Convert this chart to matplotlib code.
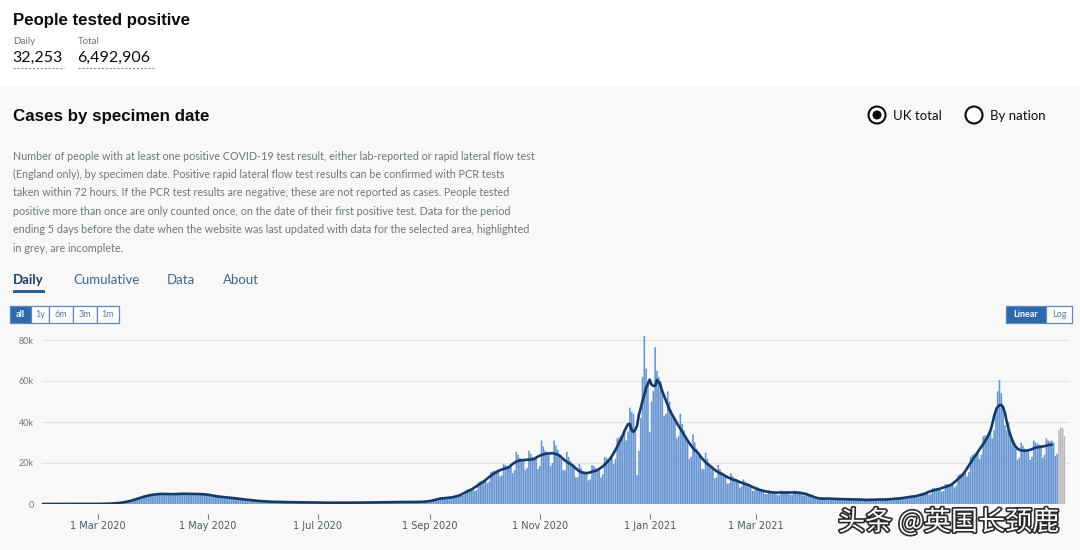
import numpy as np
import pandas as pd
import matplotlib
matplotlib.use("Agg")
import matplotlib.pyplot as plt
import matplotlib.dates as mdates
import matplotlib.patheffects as pe
from matplotlib.patches import Rectangle, Circle
from matplotlib.transforms import IdentityTransform

# daily people tested positive by specimen date (thousands), from 30 Jan 2020
jan_2020 = [0.002, 0.0]
feb_2020 = [0.0, 0.0, 0.0, 0.0, 0.0, 0.0, 0.001, 0.001, 0.0, 0.002,
            0.001, 0.0, 0.0, 0.0, 0.0, 0.0, 0.0, 0.0, 0.0, 0.002,
            0.003, 0.005, 0.004, 0.006, 0.008, 0.01, 0.012, 0.015, 0.02]
mar_2020 = [0.03, 0.05, 0.06, 0.08, 0.1, 0.12, 0.14, 0.16, 0.22, 0.28,
            0.35, 0.45, 0.55, 0.6, 0.65, 0.9, 1.1, 1.3, 1.5, 1.8,
            1.9, 2.0, 2.7, 3.0, 3.3, 3.6, 3.9, 3.8, 3.9, 4.4, 4.6]
apr_2020 = [4.8, 5.0, 4.9, 4.5, 4.4, 5.2, 5.3, 5.2, 5.0, 4.7,
            4.3, 4.2, 4.9, 5.3, 5.4, 5.2, 5.0, 4.6, 4.4, 5.1,
            5.3, 5.2, 5.1, 4.9, 4.5, 4.3, 5.0, 5.2, 5.1, 4.9]
may_2020 = [4.6, 4.0, 3.7, 4.3, 4.2, 3.9, 3.7, 3.4, 3.0, 2.9,
            3.6, 3.5, 3.3, 3.1, 2.9, 2.5, 2.3, 2.8, 2.7, 2.4,
            2.3, 2.1, 1.8, 1.6, 1.9, 2.0, 1.8, 1.6, 1.5, 1.2, 1.1]
jun_2020 = [1.4, 1.4, 1.3, 1.2, 1.1, 0.9, 0.8, 1.2, 1.2, 1.1,
            1.0, 1.0, 0.8, 0.7, 1.0, 1.0, 0.9, 0.9, 0.8, 0.7,
            0.6, 0.9, 0.9, 0.9, 0.8, 0.8, 0.6, 0.6, 0.8, 0.8]
jul_2020 = [0.8, 0.7, 0.7, 0.5, 0.5, 0.7, 0.7, 0.7, 0.7, 0.6,
            0.5, 0.5, 0.7, 0.7, 0.7, 0.6, 0.6, 0.5, 0.5, 0.7,
            0.7, 0.7, 0.7, 0.7, 0.6, 0.5, 0.8, 0.8, 0.8, 0.8, 0.7]
aug_2020 = [0.6, 0.6, 0.9, 0.9, 0.9, 0.9, 0.8, 0.7, 0.7, 1.0,
            1.0, 1.0, 1.0, 0.9, 0.8, 0.8, 1.1, 1.1, 1.0, 1.0,
            0.9, 0.8, 0.8, 1.1, 1.2, 1.1, 1.1, 1.0, 0.9, 0.9, 1.3]
sep_2020 = [1.6, 1.7, 1.8, 1.9, 1.9, 2.3, 3.2, 3.1, 3.0, 2.9,
            2.8, 2.5, 2.6, 3.9, 3.8, 3.9, 4.1, 4.3, 4.0, 4.4,
            6.5, 7.0, 7.2, 7.5, 7.6, 6.4, 6.7, 10.5, 11.0, 11.2]
oct_2020 = [11.5, 11.8, 10.2, 11.0, 15.5, 16.0, 16.2, 16.5, 16.8, 13.5,
            14.0, 19.5, 19.0, 18.5, 18.6, 18.8, 15.0, 16.5, 25.5, 24.0,
            22.5, 22.0, 21.5, 16.5, 17.5, 26.0, 24.5, 23.0, 22.5, 22.0, 17.0]
nov_2020 = [18.5, 31.0, 28.0, 26.0, 25.0, 24.0, 18.5, 20.0, 31.0, 28.5,
            26.5, 24.0, 22.0, 16.5, 16.5, 25.5, 23.0, 21.0, 19.5, 18.0,
            13.0, 13.0, 19.5, 17.5, 16.0, 15.0, 14.5, 11.5, 12.0, 19.0]
dec_2020 = [18.5, 17.5, 17.0, 16.5, 13.0, 14.5, 23.0, 22.5, 22.0, 22.5,
            23.0, 19.5, 22.0, 32.0, 32.5, 33.0, 34.0, 36.0, 31.0, 35.5,
            47.0, 45.0, 44.0, 35.0, 14.0, 26.0, 42.0, 62.0, 82.0, 66.0, 60.0]
jan_2021 = [35.0, 50.0, 55.0, 76.5, 65.0, 62.0, 60.0, 55.0, 43.0, 44.0,
            55.0, 50.0, 46.0, 43.0, 40.0, 32.0, 33.0, 44.0, 39.0, 36.0,
            33.0, 30.0, 22.0, 23.0, 34.0, 30.0, 27.0, 25.0, 23.0, 17.0, 17.0]
feb_2021 = [25.0, 22.0, 20.0, 18.5, 17.0, 12.5, 13.0, 19.0, 17.0, 15.5,
            14.5, 13.5, 10.0, 10.0, 15.0, 13.5, 12.5, 12.0, 11.0, 8.0,
            8.5, 12.0, 11.0, 10.0, 9.5, 9.0, 6.5, 6.5]
mar_2021 = [8.5, 8.0, 7.3, 6.8, 6.5, 4.8, 4.8, 6.8, 6.3, 6.0,
            5.8, 5.7, 4.3, 4.4, 6.6, 6.2, 6.0, 5.9, 5.8, 4.4,
            4.5, 6.6, 6.2, 6.0, 5.8, 5.6, 4.2, 4.1, 5.6, 5.0, 4.6]
apr_2021 = [4.2, 3.0, 2.6, 2.2, 2.3, 3.0, 3.0, 2.9, 2.8, 2.1,
            2.0, 3.0, 2.8, 2.6, 2.6, 2.5, 1.8, 1.8, 2.8, 2.6,
            2.5, 2.4, 2.3, 1.7, 1.7, 2.6, 2.4, 2.3, 2.3, 2.2]
may_2021 = [1.6, 1.6, 1.7, 2.5, 2.4, 2.3, 2.2, 1.7, 1.7, 2.5,
            2.4, 2.4, 2.4, 2.3, 1.8, 1.9, 3.0, 2.9, 2.9, 2.9,
            2.9, 2.3, 2.5, 3.8, 3.8, 3.8, 3.9, 4.0, 3.2, 3.4, 3.6]
jun_2021 = [5.5, 5.6, 5.7, 5.7, 4.6, 5.0, 7.8, 7.6, 7.5, 7.6,
            7.5, 6.0, 6.4, 9.8, 9.6, 9.5, 9.6, 9.7, 8.0, 9.0,
            14.0, 14.5, 14.8, 15.2, 15.5, 13.5, 15.5, 23.0, 24.0, 24.5]
jul_2021 = [25.0, 25.5, 22.0, 24.0, 33.0, 33.5, 33.0, 34.0, 35.5, 32.0,
            36.0, 47.0, 55.0, 60.5, 54.0, 47.0, 38.5, 36.0, 40.0, 35.0,
            31.0, 28.5, 27.0, 21.5, 22.5, 30.0, 28.5, 27.0, 26.5, 26.0, 21.5]
aug_2021 = [23.0, 31.0, 30.0, 29.5, 29.0, 28.5, 22.5, 24.0, 32.0, 31.0,
            30.5, 31.0, 30.0, 23.5, 24.5, 36.0, 37.5, 37.0, 33.0]
n_incomplete = 4  # last days shown in grey

y_ticks = [0, 20000, 40000, 60000, 80000]
y_labels = ["0", "20k", "40k", "60k", "80k"]
x_ticks = pd.date_range("2020-03-01", "2021-07-01", freq="2MS")
hidden_labels = ["1 May 2021", "1 Jul 2021"]  # covered by the watermark in the source

paragraph = [
    "Number of people with at least one positive COVID-19 test result, either lab-reported or rapid lateral flow test",
    "(England only), by specimen date. Positive rapid lateral flow test results can be confirmed with PCR tests",
    "taken within 72 hours. If the PCR test results are negative, these are not reported as cases. People tested",
    "positive more than once are only counted once, on the date of their first positive test. Data for the period",
    "ending 5 days before the date when the website was last updated with data for the selected area, highlighted",
    "in grey, are incomplete.",
]

months = [jan_2020, feb_2020, mar_2020, apr_2020, may_2020, jun_2020, jul_2020,
          aug_2020, sep_2020, oct_2020, nov_2020, dec_2020, jan_2021, feb_2021,
          mar_2021, apr_2021, may_2021, jun_2021, jul_2021, aug_2021]
daily = np.concatenate([np.array(m) for m in months]) * 1000
dates = pd.date_range("2020-01-30", periods=len(daily), freq="D")

W, H = 1080, 550
BLUE_BAR = "#6494d2"
NAVY = "#143a6c"
BODY = "Lato"


def fx(x):
    return x / W


def fy(y):
    return 1 - y / H


fig = plt.figure(figsize=(W / 100, H / 100), dpi=100, facecolor="#f8f8f8")

# white header strip
fig.patches.append(Rectangle((0, fy(86)), 1, 1 - fy(86), transform=fig.transFigure,
                             facecolor="white", edgecolor="none", zorder=0))

fig.text(fx(13), fy(21), "People tested positive", fontsize=12.1, weight="bold",
         family="Liberation Sans", color="#0b0c0c", va="center")
fig.text(fx(13), fy(42), "Daily", fontsize=7, family=BODY, color="#6f777b", va="center")
fig.text(fx(78), fy(42), "Total", fontsize=7, family=BODY, color="#6f777b", va="center")
fig.text(fx(12), fy(58), "32,253", fontsize=11.5, family=BODY, color="#0b0c0c", va="center")
fig.text(fx(77), fy(58), "6,492,906", fontsize=11.5, family=BODY, color="#0b0c0c", va="center")
for x0, x1 in [(13, 64), (78, 155)]:
    fig.add_artist(plt.Line2D([fx(x0), fx(x1)], [fy(68), fy(68)], transform=fig.transFigure,
                              color="#8a8f92", lw=0.8, ls=(0, (2, 1.5))))

fig.text(fx(13), fy(116), "Cases by specimen date", fontsize=12.2, weight="bold",
         family="Liberation Sans", color="#0b0c0c", va="center")

# radio buttons
for cx, label, selected in [(877, "UK total", True), (974, "By nation", False)]:
    fig.patches.append(Circle((cx, H - 115), 8.5, transform=IdentityTransform(),
                              facecolor="white", edgecolor="#0b0c0c", lw=1.5))
    if selected:
        fig.patches.append(Circle((cx, H - 115), 4.5, transform=IdentityTransform(),
                                  facecolor="#0b0c0c", edgecolor="none"))
    fig.text(fx(cx + 16), fy(116), label, fontsize=9.5, family=BODY, color="#0b0c0c", va="center")

for i, line in enumerate(paragraph):
    fig.text(fx(13), fy(156 + i * 18.4), line, fontsize=7.75, family=BODY,
             color="#6f777b", va="center")

# tabs
fig.text(fx(13), fy(280), "Daily", fontsize=9.5, weight="bold", family=BODY, color="#1f3f66", va="center")
fig.patches.append(Rectangle((fx(13), fy(293)), fx(45) - fx(13), 3 / H, transform=fig.transFigure,
                             facecolor="#2d5f96", edgecolor="none"))
for x, label in [(73, "Cumulative"), (167, "Data"), (223, "About")]:
    fig.text(fx(x), fy(280), label, fontsize=9.5, family=BODY, color="#40668f", va="center")


# range buttons and scale buttons
def button(x0, x1, label, active, bold=False):
    fig.patches.append(Rectangle((fx(x0), fy(323)), fx(x1) - fx(x0), 17 / H,
                                 transform=fig.transFigure, lw=0.9,
                                 facecolor="#2c69ad" if active else "white",
                                 edgecolor="#5c88bf"))
    fig.text(fx((x0 + x1) / 2), fy(314.5), label, fontsize=6.5, family=BODY,
             weight="bold" if bold else "normal",
             color="white" if active else "#5d7ea6", ha="center", va="center")


for x0, x1, lab, act in [(10, 31, "all", True), (31, 49, "1y", False), (49, 73, "6m", False),
                         (73, 97, "3m", False), (97, 119, "1m", False)]:
    button(x0, x1, lab, act, bold=act)
button(1006, 1046, "Linear", True, bold=True)
button(1046, 1072, "Log", False)

# chart
ax = fig.add_axes([fx(42), fy(504), fx(1070) - fx(42), (504 - 332) / H])
ax.set_facecolor("none")
complete = len(daily) - n_incomplete
ax.bar(dates[:complete], daily[:complete], width=0.88, color=BLUE_BAR, linewidth=0,
       snap=False, zorder=2)
ax.bar(dates[complete:], daily[complete:], width=0.88, color="#b9b9b9", linewidth=0,
       snap=False, zorder=2)

avg = pd.Series(daily[:complete]).rolling(7, center=True, min_periods=1).mean().values
ax.plot(dates[:complete - 3], avg[:complete - 3], color=NAVY, lw=1.9, zorder=3,
        solid_capstyle="round")

mar1 = mdates.date2num(pd.Timestamp("2020-03-01"))
ax.set_xlim(mar1 + (42 - 98) / 1.803, mar1 + (1070 - 98) / 1.803)
ax.set_ylim(0, 80000 * (504 - 332) / 164)

ax.set_yticks(y_ticks)
ax.set_yticklabels(y_labels)
ax.yaxis.grid(True, color="#e4e4e4", lw=0.8, zorder=0)
ax.tick_params(axis="y", length=0, pad=6, labelsize=6.5, labelcolor="#6f777b")
for lab in ax.get_yticklabels():
    lab.set_family(BODY)

x_labels = [f"{d.day} {d.strftime('%b %Y')}" for d in x_ticks]
ax.set_xticks(x_ticks)
ax.set_xticklabels(["" if s in hidden_labels else s for s in x_labels])
ax.tick_params(axis="x", length=3.5, width=0.8, color="#6f777b", pad=2,
               labelsize=7, labelcolor="#505a5f")
for lab in ax.get_xticklabels():
    lab.set_family(BODY)

for side in ["top", "right", "left"]:
    ax.spines[side].set_visible(False)
ax.spines["bottom"].set_position(("outward", 7))
ax.spines["bottom"].set_visible(False)

# watermark
fig.text(fx(838), fy(522), "头条 @英国长颈鹿", fontsize=19.5, color="white",
         family=["Noto Sans CJK SC", "DejaVu Sans"], va="center", zorder=10,
         path_effects=[pe.withStroke(linewidth=2.4, foreground="#2a2a2a")])

fig.savefig("out.png", dpi=100, facecolor=fig.get_facecolor())
